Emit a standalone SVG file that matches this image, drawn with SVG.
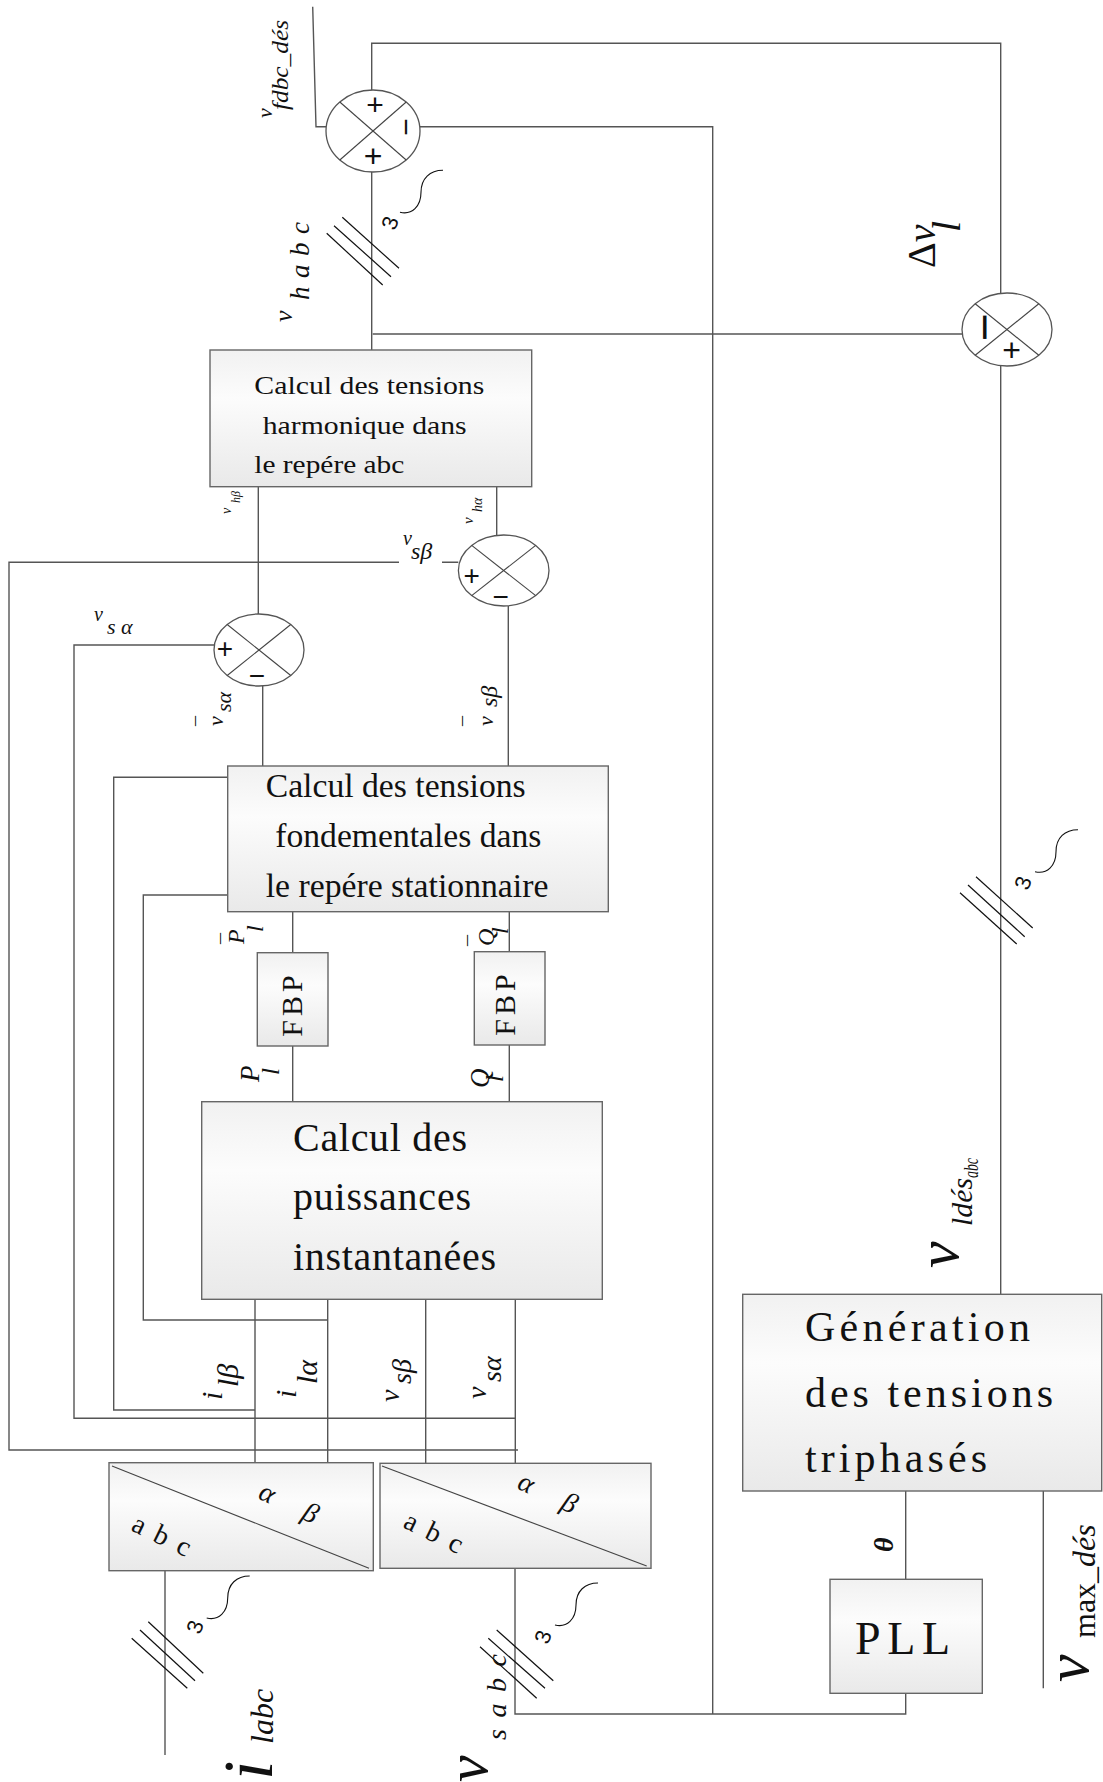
<svg xmlns="http://www.w3.org/2000/svg" width="1103" height="1782" viewBox="0 0 1103 1782">
<defs>
<linearGradient id="g" x1="0" y1="0" x2="0" y2="1">
<stop offset="0" stop-color="#f1f1f1"/>
<stop offset="0.35" stop-color="#fcfcfc"/>
<stop offset="1" stop-color="#e9e9e9"/>
</linearGradient>
<style>
.ln{stroke:#555;stroke-width:1.4;fill:none}
.blk{fill:url(#g);stroke:#666;stroke-width:1.4}
.sum{fill:#fff;stroke:#555;stroke-width:1.3}
.x{stroke:#444;stroke-width:1.1}
.tk{stroke:#111;stroke-width:1.2}
.t{font-family:"Liberation Serif",serif;fill:#111}
.i{font-style:italic}
.s{font-family:"Liberation Sans",sans-serif;fill:#111}
</style>
</defs>
<rect width="1103" height="1782" fill="#fff"/>

<g id="connectors">
<path class="ln" d="M312.7,6.7 L316,126.7 H326"/>
<path class="ln" d="M371.7,90 V43.3 H1000.7 V293"/>
<path class="ln" d="M420,126.7 H712.7 V1714"/>
<path class="ln" d="M371.7,172 V350"/>
<path class="ln" d="M372.7,334 H962"/>
<path class="ln" d="M1000.7,366 V1294"/>
<path class="ln" d="M258.3,470 V614"/>
<path class="ln" d="M496.7,473 V535"/>
<path class="ln" d="M508.3,606 V766"/>
<path class="ln" d="M262.7,686 V766"/>
<path class="ln" d="M458.3,562.3 H9 V1450 H518"/>
<path class="ln" d="M214,645 H74 V1418.3 H515"/>
<path class="ln" d="M227.7,777.3 H113.7 V1410 H255"/>
<path class="ln" d="M227.7,895 H143.3 V1320 H327.7"/>
<path class="ln" d="M292.7,911.7 V952.7 M292.7,1046 V1101.7"/>
<path class="ln" d="M509.3,911.7 V951.7 M509.3,1045 V1101.7"/>
<path class="ln" d="M255,1299.3 V1463 M327.7,1299.3 V1463"/>
<path class="ln" d="M425.7,1299.3 V1463.3 M515.3,1299.3 V1463.3"/>
<path class="ln" d="M165,1570.7 V1755"/>
<path class="ln" d="M515,1568.3 V1714 H905.7 V1693.3"/>
<path class="ln" d="M905.7,1491 V1579.3"/>
<path class="ln" d="M1043.3,1491 V1688.3"/>
<g class="tk">
<line x1="326.7" y1="233.3" x2="382.7" y2="285"/>
<line x1="334" y1="225.7" x2="391" y2="276.7"/>
<line x1="342.3" y1="217.3" x2="399" y2="268.3"/>
<line x1="960" y1="892.7" x2="1016.7" y2="944"/>
<line x1="968" y1="885" x2="1024.7" y2="936.7"/>
<line x1="976" y1="876.7" x2="1032.7" y2="928"/>
<line x1="131.7" y1="1638.3" x2="187.3" y2="1688.3"/>
<line x1="140" y1="1630" x2="195" y2="1680.7"/>
<line x1="148.3" y1="1621.7" x2="203.3" y2="1673.3"/>
<line x1="480" y1="1646.7" x2="536.7" y2="1698.3"/>
<line x1="488.3" y1="1638.3" x2="545" y2="1688.3"/>
<line x1="496.7" y1="1630" x2="553.3" y2="1680.7"/>
</g>
<g fill="none" stroke="#111" stroke-width="1.1">
<path d="M400,212.3 c12,3 21,-6 21,-20 c0,-14 9,-22 22,-22"/>
<path d="M1035,871.7 c12,3 21,-6 21,-20 c0,-14 9,-22 22,-22"/>
<path d="M206.7,1618 c12,3 21,-6 21,-20 c0,-14 9,-22 22,-22"/>
<path d="M555,1625 c12,3 21,-6 21,-20 c0,-14 9,-22 22,-22"/>
</g>
<g class="s" font-size="22" text-anchor="middle" dominant-baseline="central">
<text transform="translate(390,223) rotate(-70)">3</text>
<text transform="translate(1023,883) rotate(-70)">3</text>
<text transform="translate(195,1627) rotate(-70)">3</text>
<text transform="translate(543,1637) rotate(-70)">3</text>
</g>
</g>

<g id="sum1">
<ellipse class="sum" cx="373" cy="131" rx="47" ry="41"/>
<line class="x" x1="339.8" y1="102" x2="406.2" y2="160"/>
<line class="x" x1="406.2" y1="102" x2="339.8" y2="160"/>
<text class="s" x="375" y="104" font-size="30" text-anchor="middle" dominant-baseline="central">+</text>
<text class="s" x="373" y="156" font-size="32" text-anchor="middle" dominant-baseline="central">+</text>
<text class="s" transform="translate(406.7,127) rotate(90)" font-size="30" text-anchor="middle" dominant-baseline="central">−</text>
</g>

<g id="sum2">
<ellipse class="sum" cx="1007" cy="329.5" rx="45" ry="36.5"/>
<line class="x" x1="975.2" y1="303.7" x2="1038.8" y2="355.3"/>
<line class="x" x1="1038.8" y1="303.7" x2="975.2" y2="355.3"/>
<text class="s" transform="translate(985,327) rotate(90)" font-size="48" text-anchor="middle" dominant-baseline="central">−</text>
<text class="s" x="1011.7" y="350" font-size="32" text-anchor="middle" dominant-baseline="central">+</text>
</g>

<g id="sum3">
<ellipse class="sum" cx="259" cy="650" rx="45" ry="36"/>
<line class="x" x1="227.2" y1="624.5" x2="290.8" y2="675.5"/>
<line class="x" x1="290.8" y1="624.5" x2="227.2" y2="675.5"/>
<text class="s" x="225" y="648" font-size="28" text-anchor="middle" dominant-baseline="central">+</text>
<text class="s" x="257" y="675" font-size="28" text-anchor="middle" dominant-baseline="central">−</text>
</g>

<g id="sum4">
<ellipse class="sum" cx="503.7" cy="570.5" rx="45.3" ry="35.5"/>
<line class="x" x1="471.7" y1="545.4" x2="535.7" y2="595.6"/>
<line class="x" x1="535.7" y1="545.4" x2="471.7" y2="595.6"/>
<text class="s" x="471.7" y="575" font-size="28" text-anchor="middle" dominant-baseline="central">+</text>
<text class="s" x="500.7" y="596" font-size="28" text-anchor="middle" dominant-baseline="central">−</text>
</g>

<g id="harmoniques">
<rect class="blk" x="210" y="350" width="321.7" height="136.7"/>
<g class="t" font-size="26">
<text x="254.3" y="394" textLength="230" lengthAdjust="spacingAndGlyphs">Calcul des tensions</text>
<text x="262.7" y="434" textLength="204" lengthAdjust="spacingAndGlyphs">harmonique dans</text>
<text x="254.3" y="473.3" textLength="150" lengthAdjust="spacingAndGlyphs">le repére abc</text>
</g>
</g>

<g id="fondamentales">
<rect class="blk" x="227.7" y="766" width="380.6" height="145.7"/>
<g class="t" font-size="33">
<text x="265.7" y="797.3" textLength="260" lengthAdjust="spacingAndGlyphs">Calcul des tensions</text>
<text x="275.3" y="847.3" textLength="266" lengthAdjust="spacingAndGlyphs">fondementales dans</text>
<text x="265.7" y="897.3" textLength="282.7" lengthAdjust="spacingAndGlyphs">le repére stationnaire</text>
</g>
</g>

<g id="fbp1">
<rect class="blk" x="257.3" y="952.7" width="70.7" height="93.3"/>
<text class="t" transform="translate(302,1004) rotate(-90)" font-size="30" text-anchor="middle" letter-spacing="4">FBP</text>
</g>
<g id="fbp2">
<rect class="blk" x="474.3" y="951.7" width="70.7" height="93.3"/>
<text class="t" transform="translate(515,1003) rotate(-90)" font-size="30" text-anchor="middle" letter-spacing="4">FBP</text>
</g>

<g id="puissances">
<rect class="blk" x="201.7" y="1101.7" width="400.6" height="197.6"/>
<g class="t" font-size="40">
<text x="293" y="1151" textLength="174" lengthAdjust="spacing">Calcul des</text>
<text x="293" y="1210" textLength="178" lengthAdjust="spacing">puissances</text>
<text x="293" y="1270" textLength="203" lengthAdjust="spacing">instantanées</text>
</g>
</g>

<g id="abc1">
<rect class="blk" x="109" y="1462.7" width="264.3" height="108"/>
<line class="x" x1="112" y1="1466" x2="369" y2="1568.3"/>
<text class="t" transform="translate(130,1530) rotate(26)" font-size="28" textLength="62" lengthAdjust="spacing">a b c</text>
<text class="t i" transform="translate(257,1498) rotate(25)" font-size="28" textLength="62" lengthAdjust="spacing">α β</text>
</g>
<g id="abc2">
<rect class="blk" x="380" y="1463.3" width="271" height="105"/>
<line class="x" x1="382" y1="1466" x2="646.7" y2="1566"/>
<text class="t" transform="translate(402,1527) rotate(26)" font-size="28" textLength="62" lengthAdjust="spacing">a b c</text>
<text class="t i" transform="translate(516,1488) rotate(25)" font-size="28" textLength="62" lengthAdjust="spacing">α β</text>
</g>

<g id="generation">
<rect class="blk" x="742.7" y="1294.3" width="359" height="196.7"/>
<g class="t" font-size="42">
<text x="805" y="1341" textLength="225" lengthAdjust="spacing">Génération</text>
<text x="805" y="1407" textLength="248" lengthAdjust="spacing">des tensions</text>
<text x="805" y="1472" textLength="182" lengthAdjust="spacing">triphasés</text>
</g>
</g>

<g id="pll">
<rect class="blk" x="830" y="1579.3" width="152.3" height="114"/>
<text class="t" x="855" y="1654" font-size="46" textLength="95" lengthAdjust="spacing">PLL</text>
</g>

<g id="labels" class="t i">
<text transform="translate(272,118) rotate(-90)" font-size="22">v</text>
<text transform="translate(288,110) rotate(-90)" font-size="24" textLength="90" lengthAdjust="spacingAndGlyphs">fdbc_dés</text>
<text transform="translate(292,322) rotate(-90)" font-size="26">v</text>
<text transform="translate(309,300) rotate(-90)" font-size="27" textLength="78" lengthAdjust="spacing">h a b c</text>
<text transform="translate(935,268) rotate(-90)" font-size="40" font-style="normal">Δ<tspan font-style="italic">v</tspan></text>
<text transform="translate(960,232) rotate(-90)" font-size="40">l</text>
<text transform="translate(231,514) rotate(-90)" font-size="14">v</text>
<text transform="translate(240,503) rotate(-90)" font-size="12">hβ</text>
<text transform="translate(473,524) rotate(-90)" font-size="15">v</text>
<text transform="translate(482,512) rotate(-90)" font-size="14">hα</text>
<rect x="399" y="548" width="43" height="18" fill="#fff"/>
<text x="403" y="545" font-size="20">v</text>
<text x="411" y="559" font-size="24">sβ</text>
<text x="94" y="621" font-size="20">v</text>
<text x="107" y="634" font-size="22">s α</text>
<text transform="translate(211,726) rotate(-90)" font-size="20" font-style="normal">¯</text>
<text transform="translate(223,726) rotate(-90)" font-size="22">v</text>
<text transform="translate(231,712) rotate(-90)" font-size="22">sα</text>
<text transform="translate(478,726) rotate(-90)" font-size="20" font-style="normal">¯</text>
<text transform="translate(493,726) rotate(-90)" font-size="22">v</text>
<text transform="translate(497,707) rotate(-90)" font-size="24">sβ</text>
<text transform="translate(236,944) rotate(-90)" font-size="22" font-style="normal">¯</text>
<text transform="translate(244,944) rotate(-90)" font-size="24">P</text>
<text transform="translate(263,932) rotate(-90)" font-size="24">l</text>
<text transform="translate(483,946) rotate(-90)" font-size="22" font-style="normal">¯</text>
<text transform="translate(494,946) rotate(-90)" font-size="24">Q</text>
<text transform="translate(508,934) rotate(-90)" font-size="24">l</text>
<text transform="translate(259,1082) rotate(-90)" font-size="27">P</text>
<text transform="translate(279,1075) rotate(-90)" font-size="25">l</text>
<text transform="translate(489,1088) rotate(-90)" font-size="27">Q</text>
<text transform="translate(503,1082) rotate(-90)" font-size="25">l</text>
<text transform="translate(222,1400) rotate(-90)" font-size="30">i</text>
<text transform="translate(238,1387) rotate(-90)" font-size="30">lβ</text>
<text transform="translate(296,1398) rotate(-90)" font-size="30">i</text>
<text transform="translate(317,1384) rotate(-90)" font-size="30">lα</text>
<text transform="translate(399,1402) rotate(-90)" font-size="28">v</text>
<text transform="translate(411,1384) rotate(-90)" font-size="28">sβ</text>
<text transform="translate(486,1399) rotate(-90)" font-size="28">v</text>
<text transform="translate(501,1382) rotate(-90)" font-size="28">sα</text>
<text transform="translate(272,1780) rotate(-90)" font-size="70">i</text>
<text transform="translate(273,1744) rotate(-90)" font-size="32">labc</text>
<text transform="translate(487,1782) rotate(-90)" font-size="60">v</text>
<text transform="translate(506,1740) rotate(-90)" font-size="28" textLength="86" lengthAdjust="spacing">s a b c</text>
<text transform="translate(958,1268) rotate(-90)" font-size="60">v</text>
<text transform="translate(972,1226) rotate(-90)" font-size="30" textLength="48" lengthAdjust="spacingAndGlyphs">ldés</text>
<text transform="translate(978,1178) rotate(-90)" font-size="20" textLength="20" lengthAdjust="spacingAndGlyphs">abc</text>
<text transform="translate(893,1552) rotate(-90)" font-size="28" font-weight="bold">θ</text>
<text transform="translate(1088,1682) rotate(-90)" font-size="62">v</text>
<text transform="translate(1095,1638) rotate(-90)" font-size="32"><tspan font-style="normal">max_</tspan>dés</text>
</g>
</svg>
